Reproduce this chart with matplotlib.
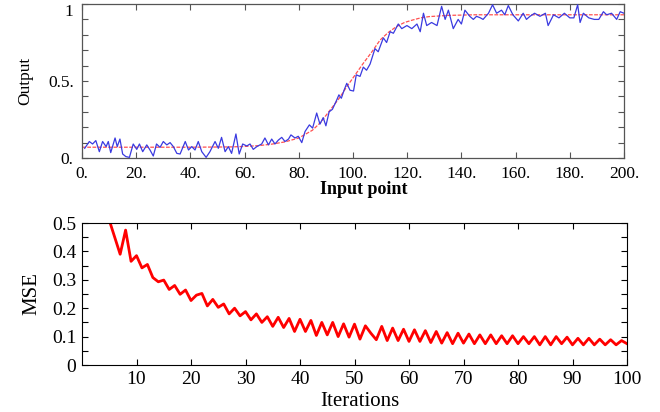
import matplotlib
matplotlib.use("Agg")
import matplotlib.pyplot as plt

plt.rcParams['font.family'] = ['Liberation Serif', 'DejaVu Serif']

# Top chart: measured output (blue) and fitted curve (red)
blue_x = [1, 2.7, 3.9, 5.1, 6.4, 7.6, 8.9, 9.7, 10.6, 12.2, 13, 14, 15, 16.2, 17.5,
          18.9, 20.2, 21.2, 22.4, 23.9, 25.1, 26.3, 27.5, 28.8, 30, 31.3, 32.5, 33.7,
          35, 36.2, 38.1, 39.3, 40.5, 41.7, 42.9, 44.2, 45.8, 47.2, 49.1, 50.3, 51.5,
          52.8, 54, 55.2, 56.8, 58, 59.3, 60.8, 62, 63.2, 64.5, 66.3, 67.5, 68.8, 70,
          71.2, 72.5, 73.7, 74.9, 76.2, 77.1, 78.6, 79.8, 81.1, 82.3, 83.9, 85.1, 86.6,
          87.8, 89, 90, 91.2, 92.4, 94, 94.8, 95.7, 96.7, 97.7, 98.9, 100.2, 101.2,
          102.6, 103.8, 105, 106.3, 108.1, 109.3, 111.2, 112.4, 113.7, 114.9, 116.7,
          118, 119.9, 121.7, 123.6, 124.8, 126, 127.2, 129, 131, 132.7, 134, 135.2,
          137, 138.8, 140, 141.3, 143.1, 144.4, 145.6, 147, 148, 150, 151.5, 153,
          154.8, 156, 157.3, 159, 161, 162.8, 164, 165.3, 167, 169, 171, 172, 174,
          176, 178, 180, 181.5, 182.9, 183.8, 185, 187, 189, 190.7, 192.4, 193.6,
          195.4, 197.3, 198.6, 200]
blue_y = [0.063, 0.107, 0.091, 0.113, 0.041, 0.107, 0.074, 0.107, 0.035, 0.13, 0.074,
          0.123, 0.026, 0.009, 0.004, 0.091, 0.056, 0.091, 0.041, 0.085, 0.052, 0.013,
          0.091, 0.069, 0.107, 0.085, 0.1, 0.074, 0.03, 0.026, 0.107, 0.052, 0.074,
          0.052, 0.107, 0.041, 0.004, 0.041, 0.107, 0.063, 0.134, 0.041, 0.074, 0.03,
          0.156, 0.026, 0.091, 0.078, 0.091, 0.056, 0.074, 0.091, 0.13, 0.085, 0.123,
          0.091, 0.117, 0.134, 0.107, 0.123, 0.15, 0.13, 0.141, 0.1, 0.172, 0.215,
          0.194, 0.292, 0.22, 0.262, 0.209, 0.3, 0.316, 0.377, 0.41, 0.388, 0.44,
          0.485, 0.44, 0.435, 0.54, 0.53, 0.59, 0.57, 0.61, 0.71, 0.69, 0.78, 0.75,
          0.82, 0.81, 0.87, 0.84, 0.86, 0.84, 0.87, 0.82, 0.94, 0.86, 0.88, 0.86,
          0.985, 0.9, 0.96, 0.84, 0.9, 0.87, 0.96, 0.92, 0.9, 0.92, 0.91, 0.9, 0.94,
          0.995, 0.94, 0.96, 0.93, 0.99, 0.93, 0.89, 0.94, 0.9, 0.92, 0.94, 0.92,
          0.94, 0.86, 0.93, 0.91, 0.94, 0.91, 0.91, 0.995, 0.88, 0.94, 0.91, 0.9,
          0.9, 0.95, 0.93, 0.94, 0.9, 0.95, 0.94]

red_x = [0, 20, 40, 55, 60, 65, 70, 75, 80, 85, 88, 91.5, 95, 97.7, 100, 103.8, 107,
         110, 113, 116, 119, 122, 125, 128, 135, 145, 200]
red_y = [0.07, 0.07, 0.07, 0.072, 0.075, 0.08, 0.09, 0.105, 0.13, 0.18, 0.23, 0.31,
         0.39, 0.463, 0.52, 0.615, 0.69, 0.766, 0.815, 0.853, 0.88, 0.896, 0.91,
         0.918, 0.926, 0.93, 0.93]

# Bottom chart: MSE per iteration
iterations = list(range(5, 101))
mse = [0.51, 0.45, 0.39, 0.475, 0.365, 0.385, 0.342, 0.354, 0.308, 0.293, 0.299,
       0.266, 0.28, 0.249, 0.264, 0.227, 0.246, 0.252, 0.208, 0.231, 0.203, 0.215,
       0.18, 0.2, 0.173, 0.188, 0.159, 0.18, 0.15, 0.17, 0.136, 0.168, 0.132, 0.164,
       0.118, 0.161, 0.118, 0.157, 0.104, 0.15, 0.106, 0.15, 0.1, 0.145, 0.098,
       0.144, 0.091, 0.138, 0.112, 0.089, 0.136, 0.086, 0.13, 0.086, 0.126, 0.083,
       0.124, 0.083, 0.121, 0.079, 0.118, 0.077, 0.114, 0.075, 0.112, 0.077, 0.109,
       0.075, 0.106, 0.075, 0.106, 0.075, 0.103, 0.075, 0.103, 0.075, 0.1, 0.075,
       0.1, 0.071, 0.1, 0.071, 0.1, 0.075, 0.098, 0.071, 0.094, 0.071, 0.094, 0.071,
       0.091, 0.071, 0.089, 0.071, 0.086, 0.075]

top_xticks = list(range(0, 201, 20))
top_xlabels = [f"{t}." for t in top_xticks]
top_yticks = [i / 10 for i in range(11)]
top_ylabels = ["0.", "", "", "", "", "0.5.", "", "", "", "", "1"]
mse_yticks = [i / 20 for i in range(11)]
mse_ylabels = ["0", "", "0.1", "", "0.2", "", "0.3", "", "0.4", "", "0.5"]

fig = plt.figure(figsize=(6.6, 4.12), dpi=100)

# upper panel
ax1 = fig.add_axes([82 / 660, 1 - 158 / 412, 542 / 660, 154 / 412])
ax1.plot(red_x, red_y, color='#ff5050', lw=0.9, ls=(0, (3, 1.2)), zorder=2)
ax1.plot(blue_x, blue_y, color='#3a3ae0', lw=0.9, zorder=3)
ax1.set_xlim(0, 200)
ax1.set_ylim(0, 1)
ax1.set_xticks(top_xticks)
ax1.set_xticklabels(top_xlabels, fontsize=12.5)
ax1.set_yticks(top_yticks)
ax1.set_yticklabels(top_ylabels, fontsize=12.5)
ax1.get_yticklabels()[-1].set_verticalalignment('top')
ax1.tick_params(direction='in', top=True, right=True, length=4, width=0.8,
                color='#555555', pad=6)
for s in ax1.spines.values():
    s.set_color('#555555')
    s.set_linewidth(0.9)
ax1.set_ylabel("Output", fontsize=12.5)
ax1.yaxis.set_label_coords(-0.09, 0.5)
ax1.set_xlabel("Input point", fontsize=13, fontweight='bold')
ax1.xaxis.set_label_coords(0.52, -0.15)

# lower panel
ax2 = fig.add_axes([82 / 660, 1 - 365 / 412, 545 / 660, 142 / 412])
ax2.plot(iterations, mse, color='red', lw=2.0)
ax2.set_xlim(0, 100)
ax2.set_ylim(0, 0.5)
ax2.set_xticks(list(range(10, 101, 10)))
ax2.tick_params(axis='x', labelsize=14)
ax2.set_yticks(mse_yticks)
ax2.set_yticklabels(mse_ylabels, fontsize=14)
ax2.tick_params(direction='in', top=True, right=True, length=4, width=0.8, pad=4)
ax2.set_ylabel("MSE", fontsize=15)
ax2.yaxis.set_label_coords(-0.075, 0.5)
ax2.set_xlabel("Iterations", fontsize=15)
ax2.xaxis.set_label_coords(0.51, -0.19)

fig.savefig("out.png", dpi=100)
